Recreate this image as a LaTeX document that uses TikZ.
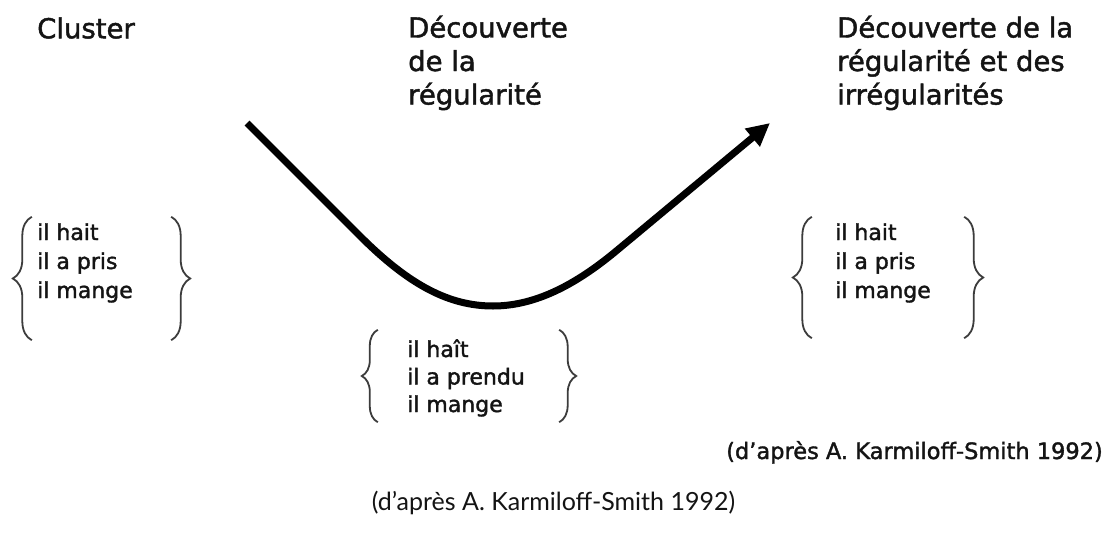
\documentclass[tikz,border=0pt]{standalone}
\usepackage{fontspec}
\setmainfont{DejaVu Sans}[FakeBold=1.6]
\newfontfamily\latofont{Lato}
\usetikzlibrary{arrows.meta,decorations.pathreplacing}
\definecolor{ink}{HTML}{141414}
\definecolor{bracecol}{HTML}{3C3C3C}
\begin{document}
\begin{tikzpicture}[x=1pt,y=-1pt,
  head/.style={font=\fontsize{27.5}{33.5}\selectfont, text=ink, inner sep=0pt, anchor=base west},
  item/.style={font=\fontsize{22}{28}\selectfont, text=ink, inner sep=0pt, anchor=base west},
  grp/.style={draw=none, inner sep=0pt, minimum width=#1},
  curly/.style={draw=bracecol, line width=1.8pt, decorate, decoration={brace, amplitude=#1}},
  curve/.style={line width=7pt, draw=black, line join=round, -{Triangle[length=23pt,width=22pt]}}
]
\useasboundingbox (0,0) rectangle (1107,535);
\fill[white] (0,0) rectangle (1107,535);

% headings
\node[head] (h1) at (37,38.3) {Cluster};
\node[head] (h2a) at (408,37.5) {Découverte};
\node[head] (h2b) at (408,71) {de la};
\node[head] (h2c) at (408,104.5) {régularité};
\node[head] (h3a) at (837,37.5) {Découverte de la};
\node[head] (h3b) at (837,71) {régularité et des};
\node[head] (h3c) at (837,104.5) {irrégularités};

% curve
\coordinate (s) at (247,123);
\coordinate (l1) at (360,236);
\coordinate (c1) at (410,286);
\coordinate (c2) at (450,306);
\coordinate (bot) at (493,306);
\coordinate (c3) at (535,306);
\coordinate (c4) at (575,285);
\coordinate (r1) at (615,252);
\coordinate (tip) at (770,123);
\draw[curve] (s) -- (l1) .. controls (c1) and (c2) .. (bot) .. controls (c3) and (c4) .. (r1) -- (tip);

% group 1
\node[grp=139pt, minimum height=123pt] (g1) at (101.5,278.5) {};
\draw[curly=19pt] (g1.south west) -- (g1.north west);
\draw[curly=19pt] (g1.north east) -- (g1.south east);
\node[item] (g1a) at (37,240) {il hait};
\node[item] (g1b) at (37,269) {il a pris};
\node[item] (g1c) at (37,298) {il mange};

% group 2
\node[grp=181pt, minimum height=92pt] (g2) at (468.5,376) {};
\draw[curly=16pt] (g2.south west) -- (g2.north west);
\draw[curly=17pt] (g2.north east) -- (g2.south east);
\node[item] (g2a) at (407,357) {il haît};
\node[item] (g2b) at (407,384.5) {il a prendu};
\node[item] (g2c) at (407,412) {il mange};

% group 3
\node[grp=152pt, minimum height=121pt] (g3) at (888,277.5) {};
\draw[curly=19pt] (g3.south west) -- (g3.north west);
\draw[curly=19pt] (g3.north east) -- (g3.south east);
\node[item] (g3a) at (835,240) {il hait};
\node[item] (g3b) at (835,269) {il a pris};
\node[item] (g3c) at (835,298) {il mange};

% captions
\node[font=\fontsize{22.5}{27}\selectfont, text=ink, inner sep=0pt, anchor=base east] (cap1) at (1103,459) {(d’après A. Karmiloff-Smith 1992)};
\node[font=\latofont\fontsize{25}{30}\selectfont, text=ink, inner sep=0pt, anchor=base] (cap2) at (553.5,510) {(d’après A. Karmiloff-Smith 1992)};
\end{tikzpicture}
\end{document}
